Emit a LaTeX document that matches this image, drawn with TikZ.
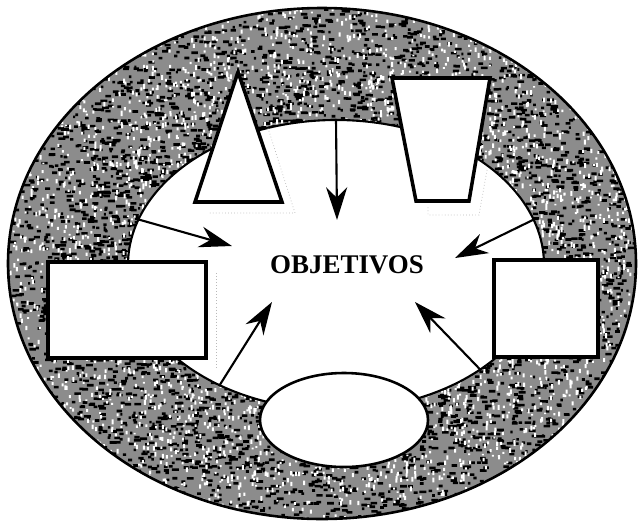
\documentclass[tikz,border=0pt]{standalone}
\usepackage{fontspec}
\setmainfont{Liberation Serif}
\usetikzlibrary{arrows.meta,shapes.geometric}

\begin{document}
\begin{tikzpicture}[
  x=0.03cm, y=-0.03cm,
  shapebox/.style={draw, fill=white, line width=3pt, line join=miter},
  roundbox/.style={ellipse, draw, fill=white, line width=2.2pt, inner sep=0pt},
  feed/.style={-{Stealth[length=28pt, width=18pt, inset=9pt]}, line width=1.8pt},
  scanline/.style={gray!55, dotted, line width=0.6pt}
]
\useasboundingbox (0,0) rectangle (639,521);

% speckled ring
\begin{scope}
  \clip (322,263.5) ellipse [x radius=314, y radius=255.5];
  \fill[black!45] (0,0) rectangle (639,521);
  \pgfmathsetseed{11}
  \fill[black] \foreach \k [evaluate=\k as \a using {360*rnd}, evaluate=\k as \r using {0.54+0.47*rnd}, evaluate=\k as \w using {2+5*rnd}] in {1,...,4000} { ({322+314*\r*cos(\a)},{263.5+255.5*\r*sin(\a)}) rectangle ++(\w,2.6) };
  \fill[white] \foreach \k [evaluate=\k as \a using {360*rnd}, evaluate=\k as \r using {0.54+0.47*rnd}, evaluate=\k as \w using {1.5+3.5*rnd}] in {1,...,3000} { ({322+314*\r*cos(\a)},{263.5+255.5*\r*sin(\a)}) rectangle ++(2,\w) };
\end{scope}
\draw[line width=2.2pt] (322,263.5) ellipse [x radius=314, y radius=255.5];

% inner field
\node[ellipse, draw, fill=white, line width=1.8pt, inner sep=0pt,
  minimum width=12.48cm, minimum height=8.7cm] (inner) at (336,265) {};

% faint scan shadows
\draw[scanline] (268,128) -- (295,213) -- (208,213);
\draw[scanline] (487,170) -- (479,215) -- (428,215) -- (428,207);
\draw[scanline] (216,273) -- (216,370);

% surrounding shapes
\draw[shapebox] (238,72) -- (282,202) -- (195,202) -- cycle;
\draw[shapebox] (392,78) -- (490,78) -- (469,201) -- (416,201) -- cycle;
\node[shapebox, minimum width=4.74cm, minimum height=2.88cm] (leftbox) at (127,310) {};
\node[shapebox, minimum width=3.12cm, minimum height=2.91cm] (rightbox) at (546,308.5) {};
\node[roundbox, minimum width=5.04cm, minimum height=2.82cm] (basebox) at (344,420) {};

% centre
\node[font=\bfseries\fontsize{23}{26}\selectfont] (obj) at (347,265) {OBJETIVOS};

\coordinate (tipN) at (337,220);
\coordinate (tipNW) at (232,246);
\coordinate (tipNE) at (455,258);
\coordinate (tipSW) at (272,302);
\coordinate (tipSE) at (415,302);

\draw[feed] (inner.90) -- (tipN);
\draw[feed] (inner.167) -- (tipNW);
\draw[feed] (inner.13.6) -- (tipNE);
\draw[feed] (inner.226) -- (tipSW);
\draw[feed] (inner.324) -- (tipSE);

\end{tikzpicture}
\end{document}
